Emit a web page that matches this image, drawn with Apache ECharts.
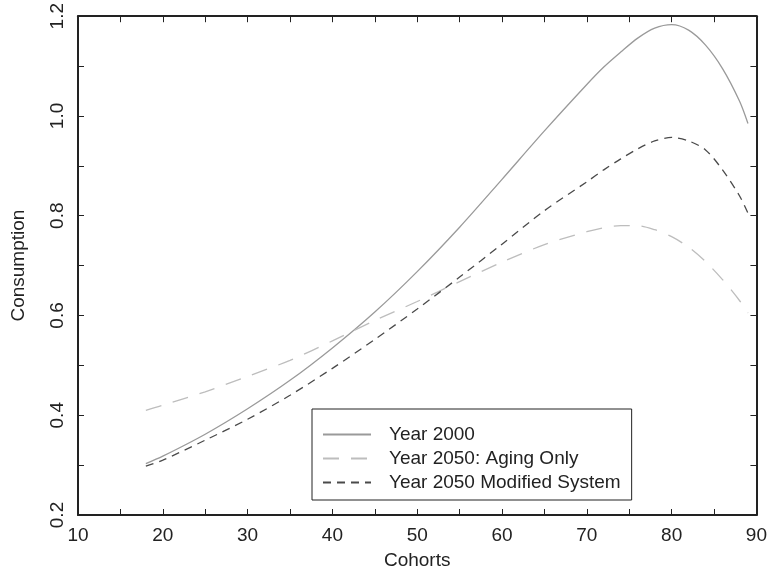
<!DOCTYPE html>
<html>
<head>
<meta charset="utf-8">
<script src="https://cdn.jsdelivr.net/npm/echarts@6/dist/echarts.min.js"></script>
<style>
  html, body { margin: 0; padding: 0; background: #fff; }
  #chart { width: 770px; height: 576px; }
</style>
</head>
<body>
<div id="chart"></div>
<script>
// cohorts (age) on x
var cohorts = [18, 20, 25, 30, 35, 40, 45, 50, 55, 60, 65, 70, 72, 74, 76, 78, 80, 82, 84, 86, 88, 89]
// consumption profiles
var year2000 = [0.303, 0.318, 0.362, 0.413, 0.47, 0.535, 0.607, 0.688, 0.777, 0.873, 0.97, 1.063, 1.098, 1.128, 1.156, 1.176, 1.183, 1.172, 1.142, 1.095, 1.03, 0.985]
var agingOnly = [0.41, 0.42, 0.447, 0.478, 0.51, 0.549, 0.59, 0.628, 0.668, 0.707, 0.742, 0.768, 0.776, 0.78, 0.78, 0.772, 0.758, 0.737, 0.708, 0.672, 0.63, 0.605]
var modified = [0.298, 0.31, 0.35, 0.392, 0.44, 0.494, 0.552, 0.613, 0.677, 0.743, 0.81, 0.868, 0.892, 0.914, 0.934, 0.95, 0.957, 0.95, 0.932, 0.892, 0.84, 0.805]
var seriesNames = ['Year 2000', 'Year 2050: Aging Only', 'Year 2050 Modified System']

function pairs (ys) {
  return cohorts.map(function (x, i) { return [x, ys[i]] })
}

var font = 'Liberation Sans, Arial, sans-serif'
var ink = '#222'

// frame axis shared bits
var frameLine = { show: true, onZero: false, lineStyle: { color: ink, width: 2 } }
var frameTick = { show: true, inside: true, length: 6, lineStyle: { color: ink, width: 1 } }
var frameMinor = { show: true, splitNumber: 2, length: 6, lineStyle: { color: ink, width: 1 } }

var chart = echarts.init(document.getElementById('chart'))
chart.setOption({
  animation: false,
  backgroundColor: '#fff',
  grid: { left: 78, right: 12, top: 14, bottom: 61 },
  xAxis: [{
    type: 'value',
    min: 10,
    max: 90,
    interval: 10,
    name: 'Cohorts',
    nameLocation: 'middle',
    nameGap: 36,
    nameTextStyle: { color: ink, fontSize: 19, fontFamily: font },
    axisLine: frameLine,
    axisTick: frameTick,
    minorTick: frameMinor,
    splitLine: { show: false },
    axisLabel: { color: ink, fontSize: 19, fontFamily: font, margin: 11 }
  }, {
    type: 'value',
    position: 'top',
    min: 10,
    max: 90,
    interval: 10,
    axisLine: frameLine,
    axisTick: frameTick,
    minorTick: frameMinor,
    splitLine: { show: false },
    axisLabel: { show: false }
  }],
  yAxis: [{
    type: 'value',
    min: 0.2,
    max: 1.2,
    interval: 0.2,
    name: 'Consumption',
    nameLocation: 'middle',
    nameGap: 50,
    nameTextStyle: { color: ink, fontSize: 19, fontFamily: font },
    axisLine: frameLine,
    axisTick: frameTick,
    minorTick: frameMinor,
    splitLine: { show: false },
    axisLabel: {
      color: ink,
      fontSize: 19,
      fontFamily: font,
      rotate: 90,
      margin: 11,
      formatter: function (v) { return v.toFixed(1) }
    }
  }, {
    type: 'value',
    position: 'right',
    min: 0.2,
    max: 1.2,
    interval: 0.2,
    axisLine: frameLine,
    axisTick: frameTick,
    minorTick: frameMinor,
    splitLine: { show: false },
    axisLabel: { show: false }
  }],
  legend: {
    orient: 'vertical',
    left: 312,
    top: 409,
    width: 324,
    padding: [16, 11, 8, 10],
    itemGap: 5,
    itemWidth: 48,
    itemHeight: 14,
    backgroundColor: '#fff',
    borderColor: ink,
    borderWidth: 1,
    borderRadius: 0,
    data: seriesNames,
    itemStyle: { opacity: 0 },
    textStyle: {
      color: ink,
      fontSize: 19,
      lineHeight: 19,
      fontFamily: font,
      padding: [0, 0, 0, 13]
    }
  },
  series: [{
    name: seriesNames[0],
    type: 'line',
    data: pairs(year2000),
    smooth: 0.3,
    symbol: 'none',
    lineStyle: { color: '#9a9a9a', width: 1.3, type: 'solid' },
    itemStyle: { color: '#9a9a9a' }
  }, {
    name: seriesNames[1],
    type: 'line',
    data: pairs(agingOnly),
    smooth: 0.3,
    symbol: 'none',
    lineStyle: { color: '#bdbdbd', width: 1.3, type: [16, 12] },
    itemStyle: { color: '#bdbdbd' }
  }, {
    name: seriesNames[2],
    type: 'line',
    data: pairs(modified),
    smooth: 0.3,
    symbol: 'none',
    lineStyle: { color: '#4a4a4a', width: 1.3, type: [8, 6] },
    itemStyle: { color: '#4a4a4a' }
  }]
})
</script>
</body>
</html>
